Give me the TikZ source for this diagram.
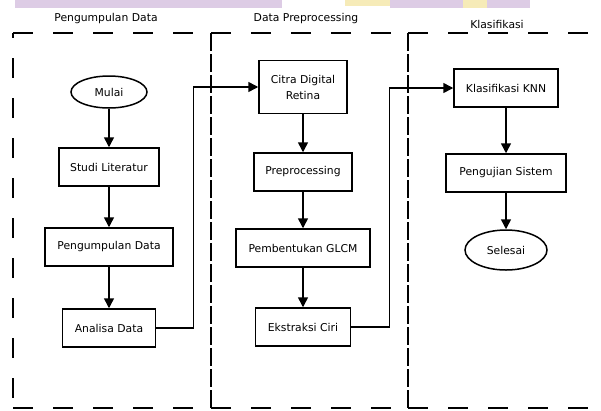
\documentclass[tikz,border=0pt]{standalone}
\usepackage{fontspec}
\setmainfont{DejaVu Sans}
\usetikzlibrary{arrows.meta,shapes.geometric}
\definecolor{ungu}{HTML}{DDCCE5}
\definecolor{kuning}{HTML}{F6EBB8}

\begin{document}
\begin{tikzpicture}[x=1pt, y=-1pt,
            every node/.style = {font=\fontsize{10.8}{16}\selectfont,
                align=center, inner sep=0pt},
            proses/.style = {shape=rectangle, draw, line width=1.5pt,
                minimum height=38pt},
            terminal/.style = {shape=ellipse, draw, line width=1.5pt},
            alur/.style = {line width=1.5pt, -{Triangle[length=10pt, width=10pt]}},
            batas/.style = {line width=2.5pt, dash pattern=on 20pt off 20pt},
            lajur/.style = {line width=1.5pt, dash pattern=on 18pt off 3pt}]

            \useasboundingbox (0,0) rectangle (601,410);

            % sisa pita di atas
            \fill[ungu] (15,0) rectangle (282,8);
            \fill[kuning] (345,0) rectangle (390,6);
            \fill[ungu] (390,0) rectangle (530,8);
            \fill[kuning] (463,0) rectangle (487,8);

            % lajur
            \foreach \a/\b in {13/211, 211/408, 408/592} {
                \draw[batas] (\a,33) -- (\b,33);
                \draw[batas] (\a,408) -- (\b,408);
            }
            \draw[batas, dash phase=15pt] (13,33) -- (13,408);
            \draw[lajur] (211,33) -- (211,408);
            \draw[lajur] (408,33) -- (408,408);

            \node (judulKumpul) at (106,19) {Pengumpulan Data};
            \node (judulPrepro) at (306,19) {Data Preprocessing};
            \node (judulKlasifikasi) at (497,24) {Klasifikasi};

            \node[terminal, minimum width=76pt, minimum height=32pt] (mulai) at (109,92) {Mulai};
            \node[proses, minimum width=100pt] (studi) at (109,167) {Studi Literatur};
            \node[proses, minimum width=128pt] (kumpul) at (109,247) {Pengumpulan Data};
            \node[proses, minimum width=93pt] (analisa) at (109,328) {Analisa Data};

            \node[proses, minimum width=88pt, minimum height=53pt] (citra) at (303,87) {Citra Digital\\Retina};
            \node[proses, minimum width=98pt] (prepro) at (303,172) {Preprocessing};
            \node[proses, minimum width=134pt] (glcm) at (303,248) {Pembentukan GLCM};
            \node[proses, minimum width=95pt] (ekstraksi) at (303,327) {Ekstraksi Ciri};

            \node[proses, minimum width=104pt] (knn) at (506,88) {Klasifikasi KNN};
            \node[proses, minimum width=120pt] (uji) at (506,173) {Pengujian Sistem};
            \node[terminal, minimum width=82pt, minimum height=40pt] (selesai) at (506,250) {Selesai};

            \draw[alur] (mulai) -- (studi);
            \draw[alur] (studi) -- (kumpul);
            \draw[alur] (kumpul) -- (analisa);
            \draw[alur] (analisa.east) -- ++(37,0) |- (citra.west);

            \draw[alur] (citra) -- (prepro);
            \draw[alur] (prepro) -- (glcm);
            \draw[alur] (glcm) -- (ekstraksi);
            \draw[alur] (ekstraksi.east) -- ++(38,0) |- (knn.west);

            \draw[alur] (knn) -- (uji);
            \draw[alur] (uji) -- (selesai);

        \end{tikzpicture}
\end{document}
